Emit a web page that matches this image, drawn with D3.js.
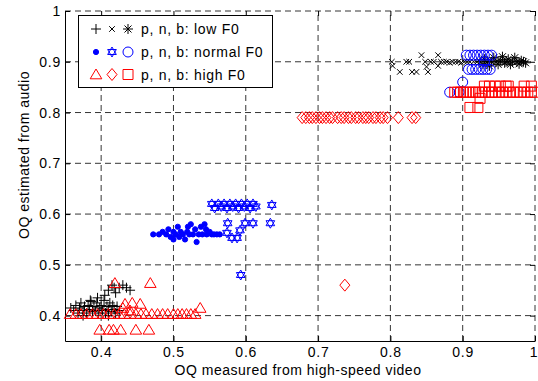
<!DOCTYPE html>
<html><head><meta charset="utf-8">
<script src="https://cdn.jsdelivr.net/npm/d3@7"></script>
<style>body{margin:0;background:#fff}svg{display:block;font-family:"Liberation Sans",Arial,sans-serif}</style>
</head><body><svg id="c" width="538" height="381"></svg>
<script>
// ---- data ----
const xTicks = [0.4,0.5,0.6,0.7,0.8,0.9,1];
const yTicks = [0.4,0.5,0.6,0.7,0.8,0.9,1];
const xLabel = "OQ measured from high-speed video";
const yLabel = "OQ estimated from audio";
const legendLabels = ["p, n, b: low F0","p, n, b: normal F0","p, n, b: high F0"];

const lowP = [[0.358,0.415],[0.362,0.41],[0.365,0.42],[0.368,0.405],[0.37,0.415],[0.372,0.425],[0.375,0.41],[0.377,0.418],[0.38,0.405],[0.382,0.42],[0.384,0.412],[0.386,0.428],[0.388,0.408],[0.39,0.418],[0.392,0.41],[0.394,0.425],[0.396,0.405],[0.398,0.415],[0.4,0.42],[0.402,0.41],[0.404,0.43],[0.406,0.405],[0.408,0.418],[0.41,0.412],[0.412,0.425],[0.414,0.408],[0.416,0.42],[0.418,0.412],[0.42,0.405],[0.422,0.418],[0.425,0.41],[0.385,0.43],[0.395,0.435],[0.375,0.4],[0.41,0.4],[0.405,0.44],[0.41,0.45],[0.415,0.46],[0.42,0.445],[0.425,0.455],[0.43,0.46],[0.435,0.455],[0.44,0.45],[0.418,0.455]];
const lowN = [[0.802,0.9],[0.803,0.892],[0.813,0.88],[0.822,0.9],[0.826,0.9],[0.83,0.88],[0.836,0.88],[0.843,0.913],[0.848,0.9],[0.852,0.88],[0.85,0.89],[0.856,0.9],[0.86,0.9],[0.866,0.913],[0.866,0.892],[0.87,0.9],[0.874,0.9],[0.878,0.9],[0.882,0.898],[0.886,0.9],[0.89,0.9],[0.894,0.9],[0.898,0.898],[0.902,0.9],[0.906,0.9],[0.91,0.9],[0.915,0.9],[0.92,0.9]];
const lowB = [[0.924,0.9],[0.928,0.895],[0.93,0.905],[0.934,0.9],[0.937,0.892],[0.94,0.9],[0.943,0.908],[0.946,0.9],[0.949,0.895],[0.952,0.902],[0.955,0.91],[0.958,0.898],[0.96,0.9],[0.963,0.905],[0.966,0.895],[0.969,0.9],[0.972,0.908],[0.975,0.9],[0.978,0.896],[0.981,0.902],[0.984,0.9],[0.987,0.898]];
const normP = [[0.472,0.56],[0.48,0.56],[0.485,0.565],[0.49,0.56],[0.493,0.57],[0.496,0.555],[0.5,0.565],[0.503,0.56],[0.506,0.575],[0.508,0.555],[0.51,0.565],[0.513,0.56],[0.516,0.55],[0.519,0.565],[0.522,0.56],[0.524,0.58],[0.527,0.56],[0.53,0.57],[0.532,0.545],[0.535,0.56],[0.538,0.575],[0.54,0.56],[0.543,0.58],[0.546,0.56],[0.55,0.565],[0.553,0.56],[0.556,0.56],[0.56,0.56],[0.564,0.56],[0.545,0.57],[0.52,0.575],[0.5,0.55]];
const normN = [[0.553,0.62],[0.557,0.612],[0.562,0.62],[0.566,0.615],[0.57,0.62],[0.574,0.612],[0.578,0.62],[0.582,0.615],[0.586,0.62],[0.59,0.612],[0.594,0.62],[0.598,0.615],[0.602,0.62],[0.606,0.612],[0.61,0.62],[0.614,0.615],[0.636,0.618],[0.575,0.582],[0.599,0.582],[0.61,0.582],[0.634,0.582],[0.574,0.563],[0.592,0.568],[0.581,0.553],[0.588,0.553],[0.593,0.48]];
const normB = [[0.905,0.913],[0.91,0.913],[0.915,0.913],[0.92,0.913],[0.925,0.913],[0.93,0.913],[0.935,0.913],[0.94,0.913],[0.908,0.885],[0.913,0.885],[0.918,0.885],[0.923,0.885],[0.928,0.885],[0.933,0.885],[0.938,0.885],[0.93,0.9],[0.9,0.86],[0.882,0.84],[0.895,0.84]];
const highP = [[0.357,0.403],[0.365,0.403],[0.372,0.403],[0.38,0.403],[0.388,0.403],[0.395,0.403],[0.403,0.403],[0.41,0.403],[0.418,0.403],[0.425,0.403],[0.432,0.403],[0.44,0.403],[0.448,0.403],[0.455,0.403],[0.462,0.403],[0.47,0.403],[0.478,0.403],[0.485,0.403],[0.492,0.403],[0.5,0.403],[0.506,0.403],[0.512,0.403],[0.518,0.403],[0.524,0.403],[0.53,0.403],[0.398,0.372],[0.411,0.372],[0.417,0.372],[0.427,0.372],[0.448,0.372],[0.466,0.372],[0.433,0.423],[0.443,0.425],[0.454,0.423],[0.537,0.415],[0.468,0.464],[0.419,0.464],[0.44,0.41],[0.43,0.415]];
const highN = [[0.678,0.79],[0.683,0.79],[0.688,0.79],[0.692,0.79],[0.697,0.79],[0.702,0.79],[0.706,0.79],[0.711,0.79],[0.716,0.79],[0.72,0.79],[0.727,0.79],[0.732,0.79],[0.736,0.79],[0.742,0.79],[0.746,0.79],[0.752,0.79],[0.756,0.79],[0.762,0.79],[0.766,0.79],[0.77,0.79],[0.776,0.79],[0.78,0.79],[0.786,0.79],[0.79,0.79],[0.796,0.79],[0.811,0.79],[0.83,0.79],[0.835,0.79],[0.737,0.46]];
const highB = [[0.889,0.84],[0.893,0.84],[0.897,0.84],[0.901,0.84],[0.905,0.84],[0.91,0.84],[0.914,0.84],[0.918,0.84],[0.922,0.84],[0.927,0.84],[0.931,0.84],[0.936,0.84],[0.94,0.84],[0.945,0.84],[0.95,0.84],[0.955,0.84],[0.96,0.84],[0.965,0.84],[0.97,0.84],[0.975,0.84],[0.98,0.84],[0.985,0.84],[0.99,0.84],[0.995,0.84],[1.0,0.84],[0.93,0.852],[0.937,0.852],[0.945,0.852],[0.952,0.852],[0.96,0.852],[0.963,0.852],[0.985,0.852],[0.995,0.852],[0.91,0.81],[0.921,0.81],[0.924,0.828]];

// ---- marker shapes ----
const M = {
  plus: "M-5,0H5M0,-5V5",
  x: "M-2.8,-2.8L2.8,2.8M-2.8,2.8L2.8,-2.8",
  star: "M-5,0H5M0,-5V5M-3.5,-3.5L3.5,3.5M-3.5,3.5L3.5,-3.5",
  dot: "M2.6,0A2.6,2.6 0 1,1 -2.6,0A2.6,2.6 0 1,1 2.6,0Z",
  hex: "M0,-5L4.33,2.5L-4.33,2.5ZM0,5L4.33,-2.5L-4.33,-2.5Z",
  circle: "M5,0A5,5 0 1,1 -5,0A5,5 0 1,1 5,0Z",
  tri: "M0,-5.5L5.8,4.3L-5.8,4.3Z",
  diamond: "M0,-6L5,0L0,6L-5,0Z",
  square: "M-5,-5H5V5H-5Z"
};
const series = [
  {d: lowP, m: "plus", c: "#000", f: false},
  {d: lowN, m: "x", c: "#000", f: false},
  {d: lowB, m: "star", c: "#000", f: false},
  {d: normP, m: "dot", c: "#0000ff", f: true},
  {d: normN, m: "hex", c: "#0000ff", f: false},
  {d: normB, m: "circle", c: "#0000ff", f: false},
  {d: highP, m: "tri", c: "#ff0000", f: false},
  {d: highN, m: "diamond", c: "#ff0000", f: false},
  {d: highB, m: "square", c: "#ff0000", f: false}
];

const svg = d3.select("#c");
const L = 65, R = 535, T = 11, B = 341;
const x = d3.scaleLinear().domain([0.35, 1]).range([L, R]);
const y = d3.scaleLinear().domain([0.35, 1]).range([B, T]);
const fmt = d => d === 1 ? "1" : d.toFixed(1);

// grid
const grid = svg.append("g").attr("stroke", "#000").attr("stroke-width", 0.8).attr("stroke-dasharray", "6,4");
grid.selectAll(".gx").data(xTicks).join("line").attr("x1", d => x(d)).attr("x2", d => x(d)).attr("y1", B).attr("y2", T);
grid.selectAll(".gy").data(yTicks).join("line").attr("y1", d => y(d)).attr("y2", d => y(d)).attr("x1", L).attr("x2", R);

// axes
const ax = svg.append("g").attr("transform", `translate(0,${B})`)
  .call(d3.axisBottom(x).tickValues(xTicks).tickFormat(fmt).tickSizeInner(-5).tickSizeOuter(0).tickPadding(6));
const ay = svg.append("g").attr("transform", `translate(${L},0)`)
  .call(d3.axisLeft(y).tickValues(yTicks).tickFormat(fmt).tickSizeInner(-5).tickSizeOuter(0).tickPadding(4));
// mirrored ticks top/right
svg.append("g").attr("transform", `translate(0,${T})`)
  .call(d3.axisTop(x).tickValues(xTicks).tickFormat("").tickSizeInner(-5).tickSizeOuter(0))
  .select(".domain").remove();
svg.append("g").attr("transform", `translate(${R},0)`)
  .call(d3.axisRight(y).tickValues(yTicks).tickFormat("").tickSizeInner(-5).tickSizeOuter(0))
  .select(".domain").remove();
svg.selectAll(".tick line").attr("stroke", "#000");
svg.selectAll(".domain").attr("stroke", "#000");
[ax, ay].forEach(a => a.selectAll("text").attr("font-size", 14).attr("fill", "#000")
  .attr("font-family", '"Liberation Sans",Arial,sans-serif'));
ax.selectAll("text").style("letter-spacing", "0.8px").attr("dx", d => d === 1 ? -1.5 : 0);
ay.selectAll("text").style("letter-spacing", "0.8px");

// marks
series.forEach(s => {
  svg.append("g").selectAll("path").data(s.d).join("path")
    .attr("d", M[s.m])
    .attr("transform", d => `translate(${x(d[0])},${y(d[1])})`)
    .attr("fill", s.f ? s.c : "none")
    .attr("stroke", s.c).attr("stroke-width", 1);
});

// axis labels
svg.append("text").attr("x", 298).attr("y", 375).attr("text-anchor", "middle")
  .attr("font-size", 14).style("letter-spacing", "0.5px").text(xLabel);
svg.append("text").attr("transform", "translate(29,155) rotate(-90)").attr("text-anchor", "middle")
  .attr("font-size", 14).style("letter-spacing", "0.5px").text(yLabel);

// legend
const lg = svg.append("g");
lg.append("rect").attr("x", 78.5).attr("y", 15.5).attr("width", 194).attr("height", 72)
  .attr("fill", "#fff").attr("stroke", "#000").attr("stroke-width", 1);
const rows = [29, 52, 74.5];
const legendMarks = [["plus","x","star"],["dot","hex","circle"],["tri","diamond","square"]];
const legendCols = [96, 112, 128];
legendMarks.forEach((row, i) => {
  row.forEach((m, j) => {
    const s = series[i * 3 + j];
    lg.append("path").attr("d", M[m]).attr("transform", `translate(${legendCols[j]},${rows[i]})`)
      .attr("fill", s.f ? s.c : "none").attr("stroke", s.c).attr("stroke-width", 1);
  });
  lg.append("text").attr("x", 141).attr("y", rows[i] + 5).attr("font-size", 14)
    .style("letter-spacing", "0.7px").text(legendLabels[i]);
});
</script></body></html>
